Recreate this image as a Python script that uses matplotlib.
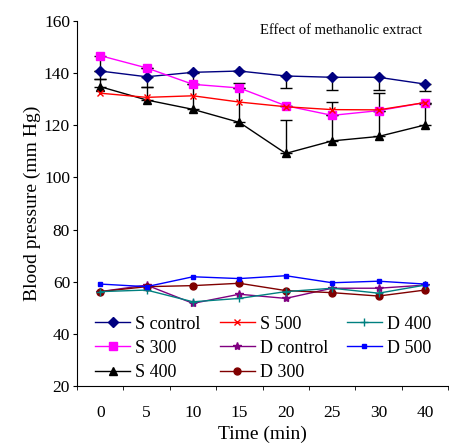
import matplotlib.pyplot as plt
import numpy as np

plt.rcParams['font.family'] = ['Liberation Serif', 'DejaVu Serif']

times = ['0', '5', '10', '15', '20', '25', '30', '40']

s_control = [140.8, 138.6, 140.3, 140.8, 138.9, 138.4, 138.4, 135.8]
s_300 = [146.7, 142.0, 135.7, 134.3, 127.5, 123.8, 125.6, 128.7]
s_400 = [134.8, 129.7, 126.1, 121.1, 109.2, 114.0, 115.7, 120.1]
s_500 = [132.3, 130.7, 131.3, 128.9, 127.1, 126.0, 125.9, 128.7]
d_control = [56.2, 58.7, 51.7, 55.2, 53.6, 57.5, 57.5, 58.7]
d_300 = [56.2, 58.1, 58.5, 59.4, 56.6, 55.8, 54.5, 56.8]
d_400 = [56.2, 56.8, 52.3, 53.6, 56.2, 57.5, 55.6, 58.7]
d_500 = [59.1, 58.1, 61.9, 61.2, 62.3, 59.6, 60.2, 59.1]

# one-sided error bars as drawn in the figure
s_control_err_low = [0, 4.0, 0, 0, 4.7, 5.0, 5.0, 2.5]
s_300_err_low = [9.0, 0, 0, 0, 0, 0, 0, 0]
s_400_err_up = [3.0, 5.0, 14.0, 15.0, 13.0, 15.0, 16.6, 8.0]

x = np.arange(len(times))

fig = plt.figure(figsize=(4.49, 4.46), dpi=100)
ax = fig.add_axes([0.1715, 0.1345, 0.8265, 0.8185])

zeros = [0] * len(x)
ax.errorbar(x, s_control, yerr=[s_control_err_low, zeros], fmt='none',
            ecolor='black', elinewidth=1, capsize=4, capthick=1, zorder=1)
ax.errorbar(x, s_300, yerr=[s_300_err_low, zeros], fmt='none',
            ecolor='black', elinewidth=1, capsize=4, capthick=1, zorder=1)
ax.errorbar(x, s_400, yerr=[zeros, s_400_err_up], fmt='none',
            ecolor='black', elinewidth=1, capsize=4, capthick=1, zorder=1)

l1, = ax.plot(x, s_control, color='#000080', marker='D', ms=5, lw=1, label='S control')
l2, = ax.plot(x, s_300, color='#ff00ff', marker='s', ms=6, lw=1, label='S 300')
l3, = ax.plot(x, s_400, color='black', marker='^', ms=6, lw=1, label='S 400')
l4, = ax.plot(x, s_500, color='#ff0000', marker='x', ms=5, lw=1, label='S 500')
l5, = ax.plot(x, d_control, color='#800080', marker='*', ms=6, lw=1, label='D control')
l6, = ax.plot(x, d_300, color='#800000', marker='o', ms=5, lw=1, label='D 300')
l7, = ax.plot(x, d_400, color='#008080', marker='+', ms=6, lw=1, label='D 400')
l8, = ax.plot(x, d_500, color='#0000ff', marker='s', ms=3, lw=1, label='D 500')

ax.set_xlim(-0.5, len(x) - 0.5)
ax.set_ylim(20, 160)
ax.set_yticks(range(20, 161, 20))
ax.set_xticks(x)
ax.set_xticklabels(times)
ax.set_xticks(np.arange(-0.5, len(x), 1), minor=True)
ax.tick_params(axis='x', which='major', length=0, labelsize=12.5, pad=14)
ax.tick_params(axis='x', which='minor', length=3, direction='out')
ax.tick_params(axis='y', length=3, labelsize=12.5, pad=2)

for side in ['top', 'right']:
    ax.spines[side].set_visible(False)

ax.set_xlabel('Time (min)', fontsize=14, labelpad=3)
ax.set_ylabel('Blood pressure (mm Hg)', fontsize=14, labelpad=2)

ax.text(0.712, 0.973, 'Effect of methanolic extract', transform=ax.transAxes,
        ha='center', va='center', fontsize=10.5)

# three legend columns placed separately
groups = [([l1, l2, l3], 0.0485), ([l4, l5, l6], 0.385), ([l7, l8], 0.727)]
for handles, xpos in groups:
    leg = ax.legend(handles=handles, loc='upper left', bbox_to_anchor=(xpos, 0.193),
                    frameon=False, fontsize=13, handlelength=1.95,
                    handletextpad=0.25, labelspacing=0.4, borderpad=0,
                    borderaxespad=0)
    ax.add_artist(leg)
ax.legend_ = None

fig.savefig('out.png', dpi=100)
